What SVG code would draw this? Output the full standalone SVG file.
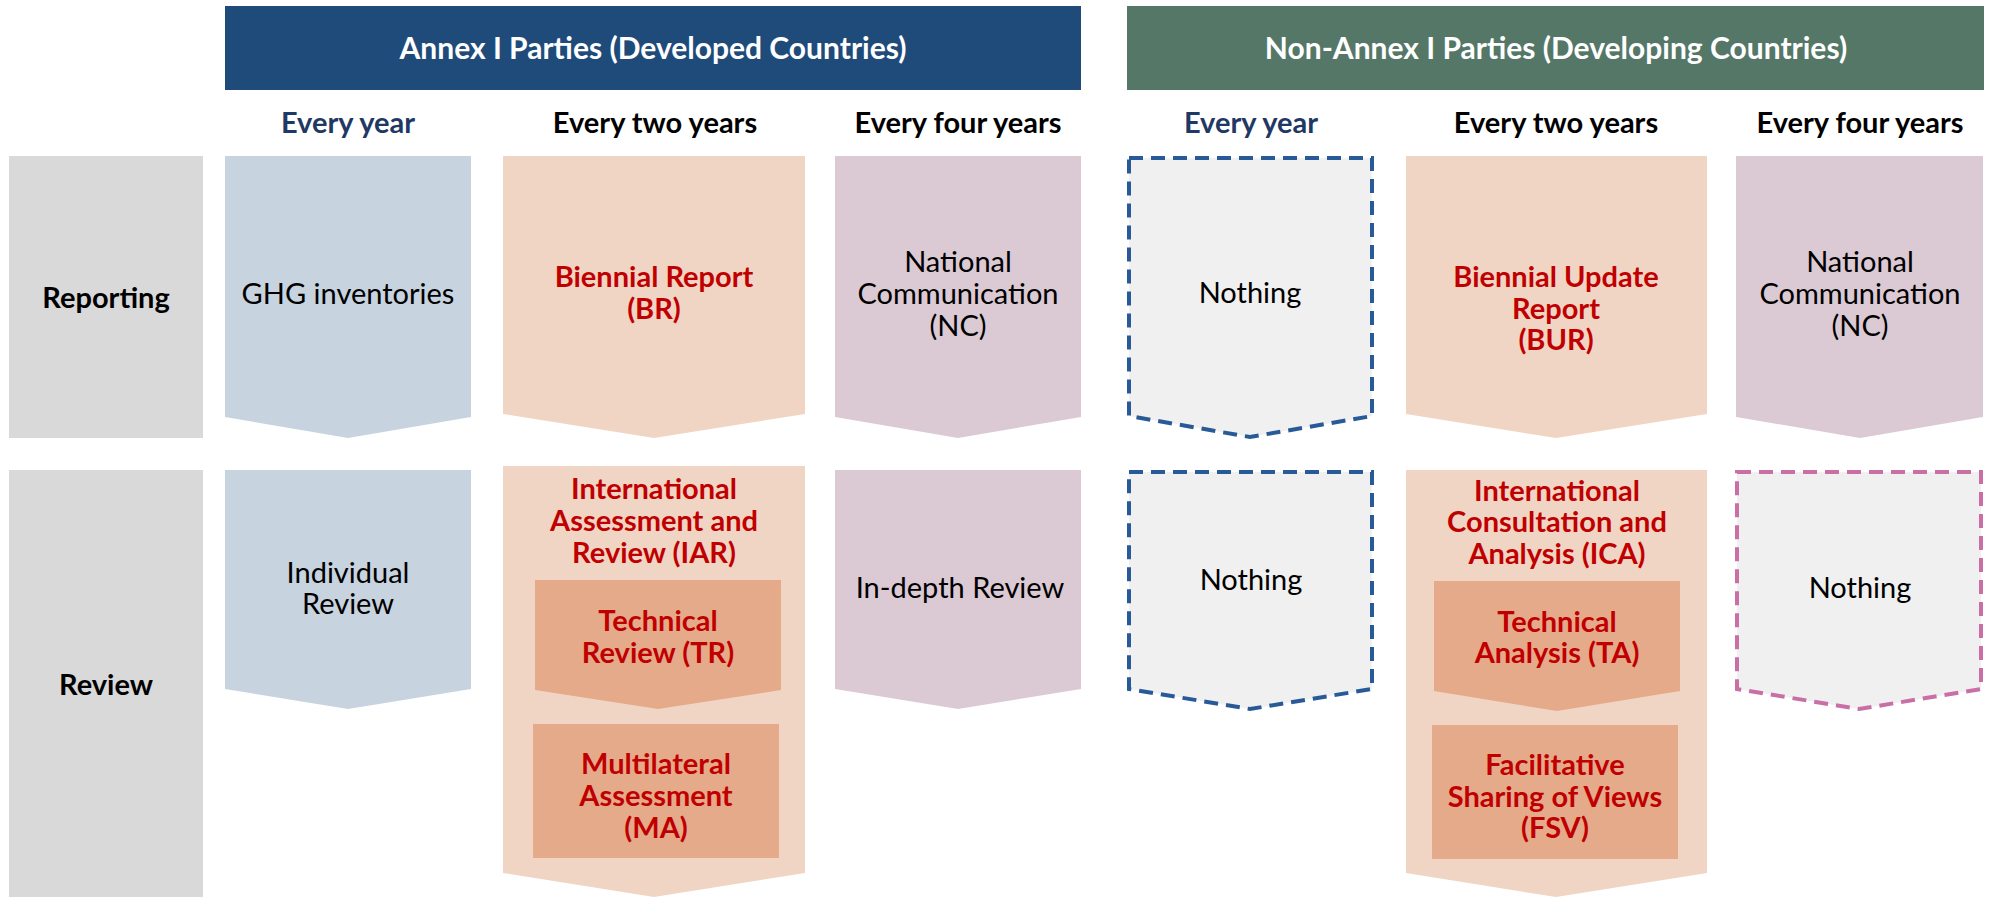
<svg xmlns="http://www.w3.org/2000/svg" width="1989" height="897" viewBox="0 0 1989 897">
<style>
text{font-family:Lato,"Liberation Sans",sans-serif;font-size:29px;text-anchor:middle;fill:#000}
.b{font-weight:bold}
.red{fill:#C00000;font-weight:bold}
.wh{fill:#fff;font-weight:bold;font-size:30px}
.blue{fill:#1F3864;font-weight:bold}
.gray{fill:#D9D9D9}
.lb{fill:#C7D3DF}
.pe{fill:#F1D5C4}
.pu{fill:#DBCAD4}
.in{fill:#E5AA8A}
.dsh{fill:#F0F0F0;stroke-width:4;stroke-dasharray:14 8}
</style>
<rect width="1989" height="897" fill="#fff"/>
<g id="header-annex"><rect x="225" y="6" width="856" height="84" fill="#1F4B7B"/><text class="wh" x="653" y="59">Annex I Parties (Developed Countries)</text></g>
<g id="header-nonannex"><rect x="1127" y="6" width="857" height="84" fill="#557767"/><text class="wh" x="1556" y="59">Non-Annex I Parties (Developing Countries)</text></g>
<g id="col-heads">
<text class="blue" x="348" y="133">Every year</text>
<text class="b" x="655" y="133">Every two years</text>
<text class="b" x="958" y="133">Every four years</text>
<text class="blue" x="1251" y="133">Every year</text>
<text class="b" x="1556" y="133">Every two years</text>
<text class="b" x="1860" y="133">Every four years</text>
</g>
<g id="row-reporting"><rect class="gray" x="9" y="156" width="194" height="282"/><text class="b" x="106" y="308">Reporting</text></g>
<g id="row-review"><rect class="gray" x="9" y="470" width="194" height="427"/><text class="b" x="106" y="695">Review</text></g>
<g id="ghg"><path class="lb" d="M225,156H471V417L348,438L225,417Z"/><text x="348" y="304">GHG inventories</text></g>
<g id="br"><path class="pe" d="M503,156H805V414L654,438L503,414Z"/><text class="red" x="654" y="287">Biennial Report<tspan x="654" dy="32">(BR)</tspan></text></g>
<g id="nc-annex"><path class="pu" d="M835,156H1081V417L958,438L835,417Z"/><text x="958" y="272">National<tspan x="958" dy="32">Communication</tspan><tspan x="958" dy="32">(NC)</tspan></text></g>
<g id="nothing-report"><path class="dsh" stroke="#285A98" d="M1129,158H1372V416L1250,437L1129,416Z"/><text x="1250" y="303">Nothing</text></g>
<g id="bur"><path class="pe" d="M1406,156H1707V414L1556,438L1406,414Z"/><text class="red" x="1556" y="287">Biennial Update<tspan x="1556" dy="32">Report</tspan><tspan x="1556" dy="31">(BUR)</tspan></text></g>
<g id="nc-nonannex"><path class="pu" d="M1736,156H1983V417L1860,438L1736,417Z"/><text x="1860" y="272">National<tspan x="1860" dy="32">Communication</tspan><tspan x="1860" dy="32">(NC)</tspan></text></g>
<g id="individual"><path class="lb" d="M225,470H471V689L348,709L225,689Z"/><text x="348" y="583">Individual<tspan x="348" dy="31">Review</tspan></text></g>
<g id="iar"><path class="pe" d="M503,466H805V873L654,897L503,873Z"/><text class="red" x="654" y="499">International<tspan x="654" dy="32">Assessment and</tspan><tspan x="654" dy="32">Review (IAR)</tspan></text>
<g id="tr"><path class="in" d="M535,580H781V690L658,709L535,690Z"/><text class="red" x="658" y="631">Technical<tspan x="658" dy="32">Review (TR)</tspan></text></g>
<g id="ma"><rect class="in" x="533" y="724" width="246" height="134"/><text class="red" x="656" y="774">Multilateral<tspan x="656" dy="32">Assessment</tspan><tspan x="656" dy="32">(MA)</tspan></text></g>
</g>
<g id="indepth"><path class="pu" d="M835,470H1081V689L958,709L835,689Z"/><text x="960" y="598">In-depth Review</text></g>
<g id="nothing-review"><path class="dsh" stroke="#285A98" d="M1129,472H1372V689L1250,709L1129,689Z"/><text x="1251" y="590">Nothing</text></g>
<g id="ica"><path class="pe" d="M1406,470H1707V873L1556,897L1406,873Z"/><text class="red" x="1557" y="501">International<tspan x="1557" dy="31">Consultation and</tspan><tspan x="1557" dy="32">Analysis (ICA)</tspan></text>
<g id="ta"><path class="in" d="M1434,581H1680V691L1557,711L1434,691Z"/><text class="red" x="1557" y="632">Technical<tspan x="1557" dy="31">Analysis (TA)</tspan></text></g>
<g id="fsv"><rect class="in" x="1432" y="725" width="246" height="134"/><text class="red" x="1555" y="775">Facilitative<tspan x="1555" dy="32">Sharing of Views</tspan><tspan x="1555" dy="31">(FSV)</tspan></text></g>
</g>
<g id="nothing-pink"><path class="dsh" stroke="#C96FA6" d="M1737,472H1981V689L1859,709L1737,689Z"/><text x="1860" y="598">Nothing</text></g>
<g id="connectors"/>
</svg>
